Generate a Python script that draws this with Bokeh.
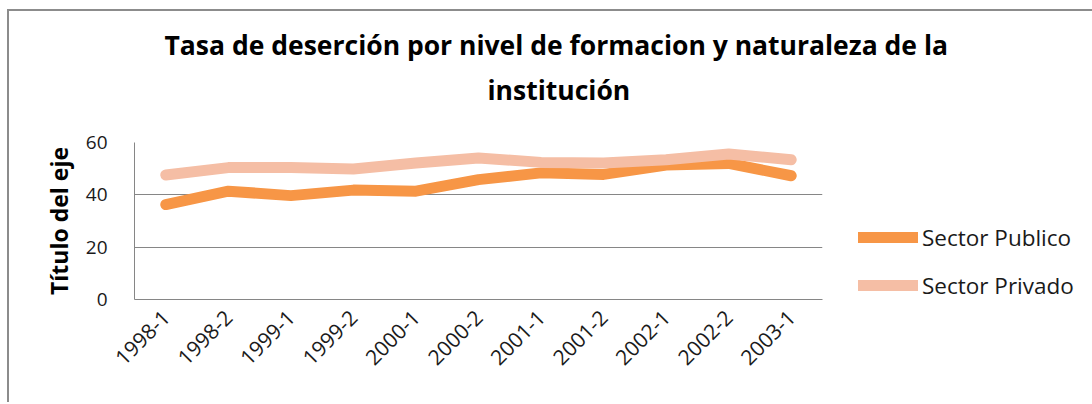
import math
from bokeh.plotting import figure
from bokeh.models import Legend, LegendItem, FactorRange, Range1d, FixedTicker, Title
from bokeh.embed import file_html
from bokeh.resources import INLINE

# ---- data ----
periods = ["1998-1", "1998-2", "1999-1", "1999-2", "2000-1", "2000-2",
           "2001-1", "2001-2", "2002-1", "2002-2", "2003-1"]
publico = [36.3, 41.4, 39.7, 41.8, 41.4, 45.8, 48.4, 47.8, 51.4, 52.0, 47.3]
privado = [47.6, 50.4, 50.4, 49.9, 52.2, 54.1, 52.4, 52.2, 53.4, 55.6, 53.4]
y_ticks = [0, 20, 40, 60]
series_names = ["Sector Publico", "Sector Privado"]
title_lines = ["Tasa de deserción por nivel de formacion y naturaleza de la",
               "institución"]
y_title = "Título del eje"

FONT = "Open Sans"
GRAY = "#868686"
C_PUB = "#F79646"
C_PRI = "#F5BEA5"

p = figure(x_range=FactorRange(factors=periods, range_padding=0),
           y_range=Range1d(0, 60),
           frame_width=688, frame_height=157,
           min_border_left=125, min_border_right=266,
           min_border_top=131, min_border_bottom=103,
           output_backend="svg", toolbar_location=None)
p.styles = {"border-top": "2px solid #8c8c8c", "border-left": "2px solid #8c8c8c",
            "margin-left": "7px", "margin-top": "9px"}
p.outline_line_color = None
p.background_fill_color = "white"
p.border_fill_color = "white"

r1 = p.line(periods, publico, line_width=11, line_color=C_PUB,
            line_cap="round", line_join="round")
r2 = p.line(periods, privado, line_width=11, line_color=C_PRI,
            line_cap="round", line_join="round")

# axes
p.xgrid.grid_line_color = None
p.ygrid.ticker = FixedTicker(ticks=y_ticks)
p.ygrid.grid_line_color = GRAY
p.yaxis.ticker = FixedTicker(ticks=y_ticks)
for ax in (p.xaxis[0], p.yaxis[0]):
    ax.axis_line_color = GRAY
    ax.major_tick_line_color = None
    ax.minor_tick_line_color = None
    ax.major_label_text_font = FONT
    ax.major_label_text_color = "#1a1a1a"
p.yaxis.major_label_text_font_size = "19px"
p.xaxis.major_label_text_font_size = "21px"
p.yaxis.major_label_standoff = 21
p.yaxis.axis_label = y_title
p.yaxis.axis_label_text_font = FONT
p.yaxis.axis_label_text_font_size = "23px"
p.yaxis.axis_label_text_font_style = "bold"
p.yaxis.axis_label_text_color = "#000000"
p.yaxis.axis_label_standoff = 8
p.xaxis.major_label_orientation = math.pi / 4
p.xaxis.major_label_standoff = 8


def title_line(txt, off):
    t = Title(text=txt, align="left", offset=off, text_font=FONT,
              text_font_size="26.5px", text_font_style="bold",
              text_color="#000000")
    try:
        t.standoff = 7
    except Exception:
        pass
    return t


# title (two lines) stacked above the frame
p.add_layout(Title(text="\u00a0", text_font_size="17px"), "above")
p.add_layout(title_line(title_lines[1], 353), "above")
p.add_layout(title_line(title_lines[0], 30), "above")

legend = Legend(items=[LegendItem(label=series_names[0], renderers=[r1]),
                       LegendItem(label=series_names[1], renderers=[r2])],
                location=(36, -1.5), orientation="vertical",
                glyph_width=60, glyph_height=20, label_height=20,
                label_standoff=4, spacing=17, padding=5, margin=0,
                border_line_color=None, background_fill_alpha=0,
                label_text_font=FONT, label_text_font_size="22.5px",
                label_text_color="#1a1a1a")
p.add_layout(legend, "right")

open("out.html", "w").write(file_html(p, INLINE))
